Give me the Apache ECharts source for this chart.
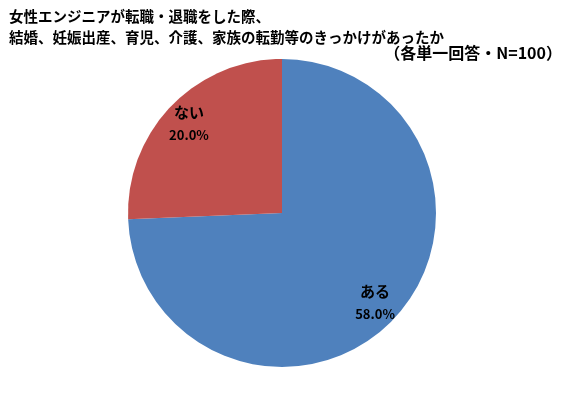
<!DOCTYPE html>
<html><head><meta charset="utf-8">
<script src="https://cdn.jsdelivr.net/npm/echarts@6/dist/echarts.min.js"></script>
<style>html,body{margin:0;padding:0;background:#fff}#c{width:563px;height:394px}</style>
</head><body><div id="c"></div>
<script>
const categories = ['ある', 'ない'];
const values = [58.0, 20.0];
const colors = ['#4F81BD', '#C0504D'];
const titleLines = ['女性エンジニアが転職・退職をした際、', '結婚、妊娠出産、育児、介護、家族の転勤等のきっかけがあったか'];
const subtitle = '（各単一回答・N=100）';

const font = '"Noto Sans CJK JP", sans-serif';
const data = categories.map((c, i) => ({ name: c, value: values[i], itemStyle: { color: colors[i] } }));
const chart = echarts.init(document.getElementById('c'));
chart.setOption({
  animation: false,
  backgroundColor: '#fff',
  title: [
    { text: titleLines.join('\n'), left: 9, top: 6, padding: 0,
      textStyle: { fontFamily: font, fontSize: 14.5, fontWeight: 'bold', color: '#000', lineHeight: 21 } },
    { text: subtitle, right: 1, top: 45, padding: 0,
      textStyle: { fontFamily: font, fontSize: 16, fontWeight: 'bold', color: '#000' } }
  ],
  series: [
    { type: 'pie', center: [282, 213], radius: [0, 154], startAngle: 90, clockwise: true,
      silent: true, label: { show: false }, labelLine: { show: false },
      data: data },
    { type: 'pie', center: [282, 213], radius: [0, 252], startAngle: 90, clockwise: true,
      silent: true, z: 3,
      itemStyle: { color: 'rgba(0,0,0,0)' },
      labelLine: { show: false },
      label: { show: true, position: 'inside',
        formatter: p => '{n|' + p.name + '}\n{v|' + p.value.toFixed(1) + '%}',
        rich: {
          n: { fontFamily: font, fontSize: 15, fontWeight: 'bold', color: '#000', lineHeight: 23 },
          v: { fontFamily: font, fontSize: 13, fontWeight: 'bold', color: '#000', lineHeight: 23 }
        } },
      data: categories.map((c, i) => ({ name: c, value: values[i], itemStyle: { color: 'rgba(0,0,0,0)' } })) }
  ]
});
</script></body></html>
